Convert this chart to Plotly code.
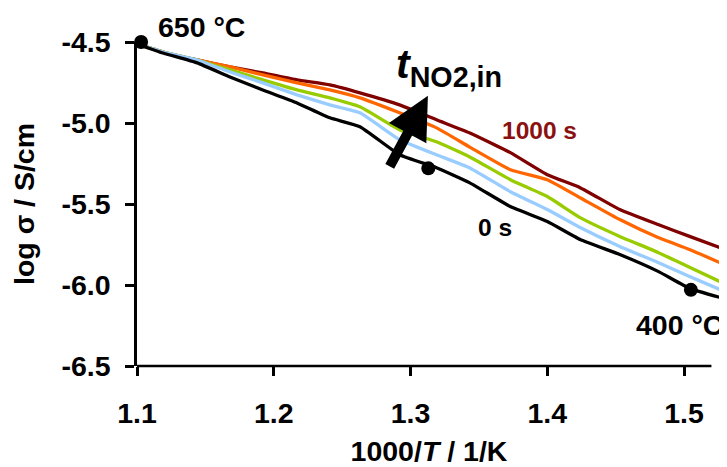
import plotly.graph_objects as go

# 1000/T (1/K)
inv_T = [1.100, 1.119, 1.144, 1.168, 1.192, 1.217, 1.241, 1.263, 1.292, 1.319,
         1.343, 1.373, 1.400, 1.424, 1.453, 1.481, 1.504, 1.526]

# log sigma (S/cm) for increasing NO2 exposure time
log_s_0s = [-4.512, -4.568, -4.629, -4.716, -4.796, -4.876, -4.968, -5.023, -5.196, -5.276,
            -5.368, -5.516, -5.608, -5.719, -5.812, -5.916, -6.021, -6.076]
log_s_t1 = [-4.512, -4.562, -4.611, -4.685, -4.752, -4.826, -4.888, -4.937, -5.103, -5.196,
            -5.276, -5.424, -5.534, -5.645, -5.762, -5.861, -5.947, -6.027]
log_s_t2 = [-4.512, -4.562, -4.611, -4.672, -4.734, -4.796, -4.845, -4.900, -5.042, -5.116,
            -5.208, -5.350, -5.454, -5.584, -5.700, -5.799, -5.891, -5.978]
log_s_t3 = [-4.512, -4.562, -4.611, -4.654, -4.703, -4.752, -4.796, -4.845, -4.937, -5.030,
            -5.147, -5.288, -5.350, -5.461, -5.596, -5.707, -5.781, -5.861]
log_s_1000s = [-4.512, -4.562, -4.611, -4.654, -4.691, -4.734, -4.765, -4.814, -4.888, -4.980,
               -5.060, -5.183, -5.319, -5.399, -5.534, -5.627, -5.700, -5.768]

series_names = ["1000 s", "t3", "t2", "t1", "0 s"]
series_values = [log_s_1000s, log_s_t3, log_s_t2, log_s_t1, log_s_0s]
series_colors = ["#800000", "#FF6600", "#99CC00", "#99CCFF", "#000000"]

# temperature markers
marker_x = [1.103, 1.313, 1.505]
marker_y = [-4.50, -5.28, -6.03]

x_tickvals = [1.1, 1.2, 1.3, 1.4, 1.5]
x_ticktext = ["1.1", "1.2", "1.3", "1.4", "1.5"]
y_tickvals = [-4.5, -5.0, -5.5, -6.0, -6.5]
y_ticktext = ["-4.5", "-5.0", "-5.5", "-6.0", "-6.5"]

FONT = "Liberation Sans, Arial, sans-serif"
FS = 28.5
FS_SMALL = 24.5

fig = go.Figure()
for name, vals, col in zip(series_names, series_values, series_colors):
    fig.add_trace(go.Scatter(x=inv_T, y=vals, mode="lines", name=name,
                             line=dict(color=col, width=3.3, shape="spline", smoothing=0.4),
                             showlegend=False))

fig.add_trace(go.Scatter(x=marker_x, y=marker_y, mode="markers",
                         marker=dict(color="black", size=14), showlegend=False,
                         cliponaxis=False))

# the page body adds an 8px margin, so the figure is 8px smaller than the window
fig.update_layout(
    width=719, height=459,
    margin=dict(l=129, r=6, t=34, b=101),
    plot_bgcolor="white", paper_bgcolor="white",
    font=dict(family=FONT, size=FS, color="black", weight="bold"),
    xaxis=dict(range=[1.1, 1.527], tickvals=x_tickvals, ticktext=x_ticktext,
               showline=False, ticks="outside", automargin=False,
               ticklen=9, tickwidth=2.5, tickcolor="black", showgrid=False, zeroline=False,
               ticklabelstandoff=13,
               title=dict(text="1000/<i>T</i> / 1/K", standoff=15,
                          font=dict(family=FONT, size=FS, weight="bold"))),
    yaxis=dict(range=[-6.5, -4.5], tickvals=y_tickvals, ticktext=y_ticktext,
               showline=True, linecolor="black", linewidth=2.5, ticks="outside",
               automargin=False,
               ticklen=9, tickwidth=2.5, tickcolor="black", showgrid=False, zeroline=False,
               ticklabelstandoff=9,
               title=dict(text="log σ / S/cm", standoff=19,
                          font=dict(family=FONT, size=FS, weight="bold"))),
)

# x axis line (ends slightly before the right edge of the data, as in the reference)
fig.add_shape(type="line", xref="x", yref="paper", x0=1.0995, x1=1.52, y0=0, y1=0,
              line=dict(color="black", width=2.5), layer="above")

annos = [
    dict(x=1.114, y=1.046, yref="paper", text="650 °C", xanchor="left", yanchor="middle",
         font=dict(color="black")),
    dict(x=1.3946, y=-5.048, text="1000 s", xanchor="center", yanchor="middle",
         font=dict(color="#8B1111", size=FS_SMALL)),
    dict(x=1.3617, y=-5.645, text="0 s", xanchor="center", yanchor="middle",
         font=dict(color="black", size=FS_SMALL)),
    dict(x=1.497, y=-6.249, text="400 °C", xanchor="center", yanchor="middle",
         font=dict(color="black")),
    dict(x=1.2878, y=-4.655, text="<i>t</i><sub>NO2,in</sub>", xanchor="left",
         yanchor="middle", font=dict(color="black", size=41)),
    dict(x=1.3127, y=-4.8325, ax=-39, ay=72, text="", showarrow=True,
         arrowhead=2, arrowsize=0.85, arrowwidth=10, arrowcolor="black", standoff=0),
]
for a in annos:
    a.setdefault("showarrow", False)
    a["xref"] = "x"
    a.setdefault("yref", "y")
    fig.add_annotation(**a)

fig.write_html("out.html")
